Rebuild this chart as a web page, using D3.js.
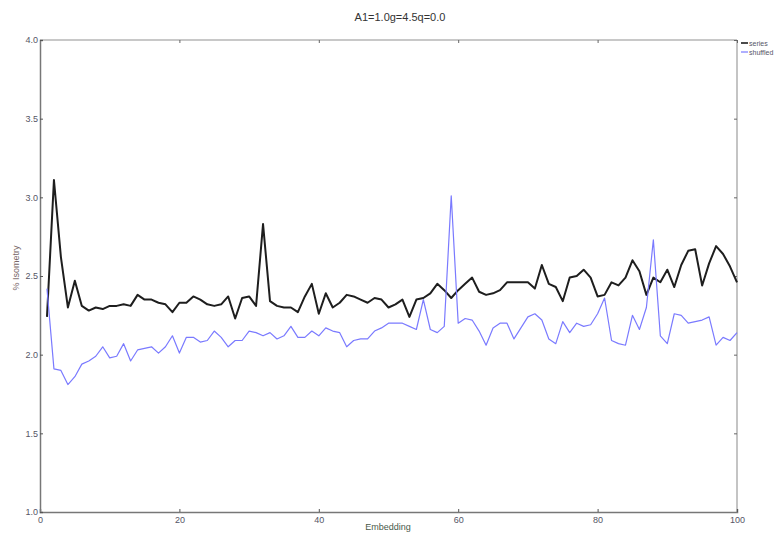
<!DOCTYPE html>
<html>
<head>
<meta charset="utf-8">
<script src="https://cdn.jsdelivr.net/npm/d3@7"></script>
<style>
  html, body { margin: 0; padding: 0; background: #fff; }
  svg { display: block; font-family: "Liberation Sans", Arial, sans-serif; }
</style>
</head>
<body>
<svg id="chart" width="783" height="533"></svg>
<script>
const title = "A1=1.0g=4.5q=0.0";
const xLabel = "Embedding";
const yLabel = "% Isometry";
const seriesNames = ["series", "shuffled"];
const xTicks = [0, 20, 40, 60, 80, 100];
const yTicks = [1.0, 1.5, 2.0, 2.5, 3.0, 3.5, 4.0];

const embedding = d3.range(1, 101);
const seriesValues = [
  2.24, 3.11, 2.62, 2.30, 2.47, 2.31, 2.28, 2.30, 2.29, 2.31,
  2.31, 2.32, 2.31, 2.38, 2.35, 2.35, 2.33, 2.32, 2.27, 2.33,
  2.33, 2.37, 2.35, 2.32, 2.31, 2.32, 2.37, 2.23, 2.36, 2.37,
  2.31, 2.83, 2.34, 2.31, 2.30, 2.30, 2.27, 2.37, 2.45, 2.26,
  2.39, 2.30, 2.33, 2.38, 2.37, 2.35, 2.33, 2.36, 2.35, 2.30,
  2.32, 2.35, 2.24, 2.35, 2.36, 2.39, 2.45, 2.41, 2.36, 2.41,
  2.45, 2.49, 2.40, 2.38, 2.39, 2.41, 2.46, 2.46, 2.46, 2.46,
  2.42, 2.57, 2.45, 2.43, 2.34, 2.49, 2.50, 2.54, 2.49, 2.37,
  2.38, 2.46, 2.44, 2.49, 2.60, 2.53, 2.38, 2.49, 2.46, 2.54,
  2.43, 2.57, 2.66, 2.67, 2.44, 2.58, 2.69, 2.64, 2.56, 2.46
];
const shuffledValues = [
  2.42, 1.91, 1.90, 1.81, 1.86, 1.94, 1.96, 1.99, 2.05, 1.98,
  1.99, 2.07, 1.96, 2.03, 2.04, 2.05, 2.01, 2.05, 2.12, 2.01,
  2.11, 2.11, 2.08, 2.09, 2.15, 2.11, 2.05, 2.09, 2.09, 2.15,
  2.14, 2.12, 2.14, 2.10, 2.12, 2.18, 2.11, 2.11, 2.15, 2.12,
  2.17, 2.15, 2.14, 2.05, 2.09, 2.10, 2.10, 2.15, 2.17, 2.20,
  2.20, 2.20, 2.18, 2.16, 2.35, 2.16, 2.14, 2.18, 3.01, 2.20,
  2.23, 2.22, 2.15, 2.06, 2.17, 2.20, 2.20, 2.10, 2.17, 2.24,
  2.26, 2.22, 2.10, 2.07, 2.21, 2.14, 2.20, 2.18, 2.19, 2.26,
  2.36, 2.09, 2.07, 2.06, 2.25, 2.16, 2.30, 2.73, 2.12, 2.07,
  2.26, 2.25, 2.20, 2.21, 2.22, 2.24, 2.06, 2.11, 2.09, 2.14
];

const svg = d3.select("#chart");
const m = { left: 40, right: 737, top: 40, bottom: 512 };

const x = d3.scaleLinear().domain([0, 100]).range([m.left, m.right]);
const y = d3.scaleLinear().domain([1, 4]).range([m.bottom, m.top]);

// frame (top & right, light)
svg.append("line").attr("x1", m.left).attr("x2", m.right).attr("y1", m.top).attr("y2", m.top)
  .attr("stroke", "#c8c8c8").attr("stroke-width", 2);
svg.append("line").attr("x1", m.right).attr("x2", m.right).attr("y1", m.top).attr("y2", m.bottom)
  .attr("stroke", "#b0b0b0").attr("stroke-width", 1.5);

// top & right mirror ticks
const topAxis = svg.append("g").attr("transform", `translate(0,${m.top})`)
  .call(d3.axisBottom(x).tickValues(xTicks).tickSize(3).tickFormat(""));
topAxis.select(".domain").remove();
topAxis.selectAll("line").attr("stroke", "#666");
const rightAxis = svg.append("g").attr("transform", `translate(${m.right},0)`)
  .call(d3.axisLeft(y).tickValues(yTicks).tickSize(3).tickFormat(""));
rightAxis.select(".domain").remove();
rightAxis.selectAll("line").attr("stroke", "#666");

// bottom axis
const xAxis = svg.append("g").attr("transform", `translate(0,${m.bottom})`)
  .call(d3.axisTop(x).tickValues(xTicks).tickSize(3).tickFormat(d3.format("d")));
xAxis.select(".domain").attr("stroke", "#777").attr("stroke-width", 1.5);
xAxis.selectAll("line").attr("stroke", "#555");
xAxis.selectAll("text").attr("y", 11).attr("dy", 0).attr("fill", "#556")
  .attr("font-size", 9).attr("dominant-baseline", "auto");

// left axis
const yAxis = svg.append("g").attr("transform", `translate(${m.left},0)`)
  .call(d3.axisRight(y).tickValues(yTicks).tickSize(3).tickFormat(d3.format(".1f")));
yAxis.select(".domain").attr("stroke", "#777").attr("stroke-width", 1.5);
yAxis.selectAll("line").attr("stroke", "#555");
yAxis.selectAll("text").attr("x", -2).attr("text-anchor", "end").attr("fill", "#556")
  .attr("font-size", 9);

// lines
const line = vals => d3.line().x((d, i) => x(embedding[i])).y(d => y(d))(vals);

svg.append("path").attr("d", line(seriesValues))
  .attr("fill", "none").attr("stroke", "#1e1e1e").attr("stroke-width", 2)
  .attr("stroke-linejoin", "round");
svg.append("path").attr("d", line(shuffledValues))
  .attr("fill", "none").attr("stroke", "#7a7aff").attr("stroke-width", 1.2)
  .attr("stroke-linejoin", "round");

// title
svg.append("text").attr("x", 400).attr("y", 21).attr("text-anchor", "middle")
  .attr("font-size", 11).attr("fill", "#333").text(title);

// axis labels
svg.append("text").attr("x", 388).attr("y", 530)
  .attr("text-anchor", "middle").attr("font-size", 9).attr("fill", "#4a5a4a").text(xLabel);
svg.append("text").attr("transform", `translate(19,268) rotate(-90)`)
  .attr("text-anchor", "middle").attr("font-size", 9).attr("fill", "#766").text(yLabel);

// legend
const legendColors = ["#1e1e1e", "#7a7aff"];
const lg = svg.append("g").attr("transform", "translate(741,43)");
seriesNames.forEach((n, i) => {
  const g = lg.append("g").attr("transform", `translate(0,${i * 9})`);
  g.append("line").attr("x1", 0).attr("x2", 7).attr("y1", 0).attr("y2", 0)
    .attr("stroke", legendColors[i]).attr("stroke-width", i === 0 ? 1.6 : 1.2);
  g.append("text").attr("x", 8).attr("y", 2.5).attr("font-size", 7).attr("fill", "#556").text(n);
});
</script>
</body>
</html>
